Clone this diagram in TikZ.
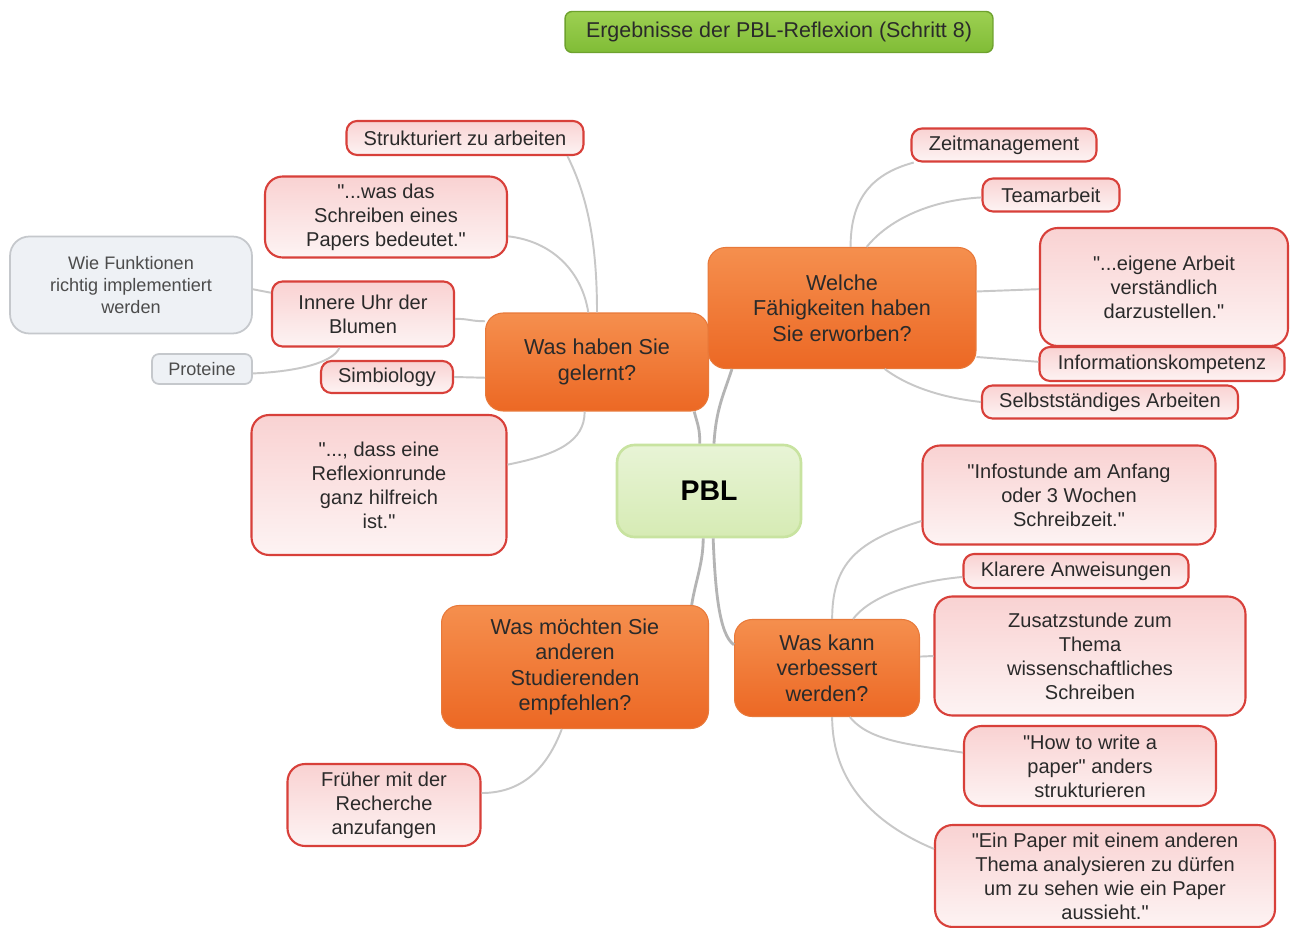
\documentclass[tikz,border=0pt]{standalone}
\usepackage{fontspec}
\setmainfont{Liberation Sans}[Ligatures=TeXOff]
\usepackage{tikz}

\definecolor{orangetop}{HTML}{F58F4E}
\definecolor{orangebot}{HTML}{EC6824}
\definecolor{orangeline}{HTML}{E8793A}
\definecolor{leafline}{HTML}{D8403A}
\definecolor{leaftop}{HTML}{F9D2D2}
\definecolor{leafbot}{HTML}{FDF3F3}
\definecolor{asidefill}{HTML}{EEF1F5}
\definecolor{asideline}{HTML}{C5C8CC}
\definecolor{pbltop}{HTML}{E8F4D6}
\definecolor{pblbot}{HTML}{D6EBB4}
\definecolor{pblline}{HTML}{C8E3A0}
\definecolor{titletop}{HTML}{9DD052}
\definecolor{titlebot}{HTML}{80BC36}
\definecolor{titleline}{HTML}{6EA22E}
\definecolor{linkgrey}{HTML}{C8C8C8}
\definecolor{textdark}{HTML}{2A2A2A}

\begin{document}
\begin{tikzpicture}[x=0.02cm, y=-0.02cm]
	\tikzset{
		leaf/.style = {rectangle, rounded corners=6pt, draw=leafline, line width=1.2pt,
			top color=leaftop, bottom color=leafbot, align=center, inner sep=0pt,
			text=textdark, font=\fontsize{11.4}{13.7}\selectfont},
		bigleaf/.style = {leaf, rounded corners=10pt},
		question/.style = {rectangle, rounded corners=10pt, draw=orangeline, line width=0.6pt,
			top color=orangetop, bottom color=orangebot, align=center, inner sep=0pt,
			text=textdark, font=\fontsize{12.3}{14.5}\selectfont},
		aside/.style = {rectangle, rounded corners=8pt, draw=asideline, line width=1pt,
			fill=asidefill, align=center, inner sep=0pt, text=black!70,
			font=\fontsize{10.3}{12.5}\selectfont},
		link/.style = {draw=linkgrey, line width=1.1pt},
		hub/.style = {draw=linkgrey!90!black, line width=1.6pt}
	}
	\fill[white] (0,0) rectangle (1294,928);
	\useasboundingbox (0,0) rectangle (1294,928);

	\node[rectangle, rounded corners=4pt, draw=titleline, line width=0.8pt, top color=titletop,
		bottom color=titlebot, minimum width=8.56cm, minimum height=0.82cm, text=textdark,
		font=\fontsize{12.2}{14}\selectfont] (title) at (779,32) {Ergebnisse der PBL-Reflexion (Schritt 8)};
	\node[rectangle, rounded corners=10pt, draw=pblline, line width=1.5pt, top color=pbltop,
		bottom color=pblbot, minimum width=3.68cm, minimum height=1.84cm,
		font=\bfseries\fontsize{16.2}{19}\selectfont] (pbl) at (709,491) {PBL};

	\node[question, minimum width=4.46cm, minimum height=1.96cm] (gelernt) at (597,362) {Was haben Sie\\gelernt?};
	\node[question, minimum width=5.36cm, minimum height=2.42cm] (erworben) at (842,308) {Welche\\Fähigkeiten haben\\Sie erworben?};
	\node[question, minimum width=3.70cm, minimum height=1.94cm] (verbessert) at (827,668) {Was kann\\verbessert\\werden?};
	\node[question, minimum width=5.34cm, minimum height=2.46cm] (empfehlen) at (575,667) {Was möchten Sie\\anderen\\Studierenden\\empfehlen?};

	\node[leaf, minimum width=4.74cm, minimum height=0.68cm] (struk) at (465,138) {Strukturiert zu arbeiten};
	\node[bigleaf, minimum width=4.84cm, minimum height=1.62cm] (paper) at (386,217) {"...was das\\Schreiben eines\\Papers bedeutet."};
	\node[leaf, minimum width=3.64cm, minimum height=1.30cm] (uhr) at (363,314) {Innere Uhr der\\Blumen};
	\node[leaf, minimum width=2.64cm, minimum height=0.64cm] (simbio) at (387,377) {Simbiology};
	\node[bigleaf, minimum width=5.10cm, minimum height=2.80cm] (reflexion) at (379,485) {"..., dass eine\\Reflexionrunde\\ganz hilfreich\\ist."};
	\node[aside, rounded corners=11pt, minimum width=4.84cm, minimum height=1.94cm] (funktionen) at (131,285) {Wie Funktionen\\richtig implementiert\\werden};
	\node[aside, rounded corners=4pt, minimum width=2.00cm, minimum height=0.60cm] (proteine) at (202,369) {Proteine};

	\node[leaf, minimum width=3.70cm, minimum height=0.66cm] (zeit) at (1004,145) {Zeitmanagement};
	\node[leaf, minimum width=2.74cm, minimum height=0.66cm] (team) at (1051,195) {Teamarbeit};
	\node[bigleaf, minimum width=4.96cm, minimum height=2.36cm] (darstellen) at (1164,287) {"...eigene Arbeit\\verständlich\\darzustellen."};
	\node[leaf, minimum width=4.90cm, minimum height=0.68cm] (infokomp) at (1162,364) {Informationskompetenz};
	\node[leaf, minimum width=5.12cm, minimum height=0.66cm] (selbst) at (1110,402) {Selbstständiges Arbeiten};

	\node[bigleaf, minimum width=5.86cm, minimum height=1.98cm] (infostunde) at (1069,495) {"Infostunde am Anfang\\oder 3 Wochen\\Schreibzeit."};
	\node[leaf, minimum width=4.50cm, minimum height=0.68cm] (klarer) at (1076,571) {Klarere Anweisungen};
	\node[bigleaf, minimum width=6.22cm, minimum height=2.38cm] (zusatz) at (1090,656) {Zusatzstunde zum\\Thema\\wissenschaftliches\\Schreiben};
	\node[bigleaf, minimum width=5.04cm, minimum height=1.60cm] (howto) at (1090,766) {"How to write a\\paper" anders\\strukturieren};
	\node[bigleaf, minimum width=6.80cm, minimum height=2.04cm] (einpaper) at (1105,876) {"Ein Paper mit einem anderen\\Thema analysieren zu dürfen\\um zu sehen wie ein Paper\\aussieht."};
	\node[bigleaf, minimum width=3.86cm, minimum height=1.64cm] (frueher) at (384,805) {Früher mit der\\Recherche\\anzufangen};

	\draw[hub] (pbl.101) .. controls +(0,-15) and +(4,15) .. (gelernt.333);
	\draw[hub] (pbl.84) .. controls +(2,-35) and +(-8,25) .. (erworben.209);
	\draw[hub] (pbl.263) .. controls +(0,25) and +(4,-25) .. (empfehlen.28);
	\draw[hub] (pbl.275) .. controls +(2,50) and +(-15,-10) .. (verbessert.166);

	\draw[link] (struk.350) .. controls +(20,40) and +(0,-70) .. (gelernt.north);
	\draw[link] (paper.351) .. controls +(45,5) and +(-6,-40) .. (gelernt.100);
	\draw[link] (uhr.357) .. controls +(15,0) and +(-15,0) .. (gelernt.160);
	\draw[link] (simbio.east) -- (gelernt.188);
	\draw[link] (reflexion.9) .. controls +(50,-10) and +(0,30) .. (gelernt.256);
	\draw[link] (funktionen.358) -- (uhr.167);
	\draw[link] (proteine.355) .. controls +(45,-2) and +(-6,15) .. (uhr.235);

	\draw[link] (zeit.191) .. controls +(-45,12) and +(0,-45) .. (erworben.82);
	\draw[link] (team.182) .. controls +(-55,3) and +(20,-25) .. (erworben.68);
	\draw[link] (erworben.7) -- (darstellen.181);
	\draw[link] (erworben.340) -- (infokomp.179);
	\draw[link] (erworben.305) .. controls +(20,15) and +(-45,-5) .. (selbst.180);

	\draw[link] (infostunde.190) .. controls +(-65,20) and +(0,-55) .. (verbessert.84);
	\draw[link] (klarer.183) .. controls +(-55,5) and +(15,-20) .. (verbessert.62);
	\draw[link] (verbessert.7) -- (zusatz.west);
	\draw[link] (verbessert.295) .. controls +(20,25) and +(-50,-8) .. (howto.174);
	\draw[link] (verbessert.276) .. controls +(0,65) and +(-60,-25) .. (einpaper.171);

	\draw[link] (empfehlen.258) .. controls +(-15,40) and +(40,0) .. (frueher.7);
\end{tikzpicture}
\end{document}
